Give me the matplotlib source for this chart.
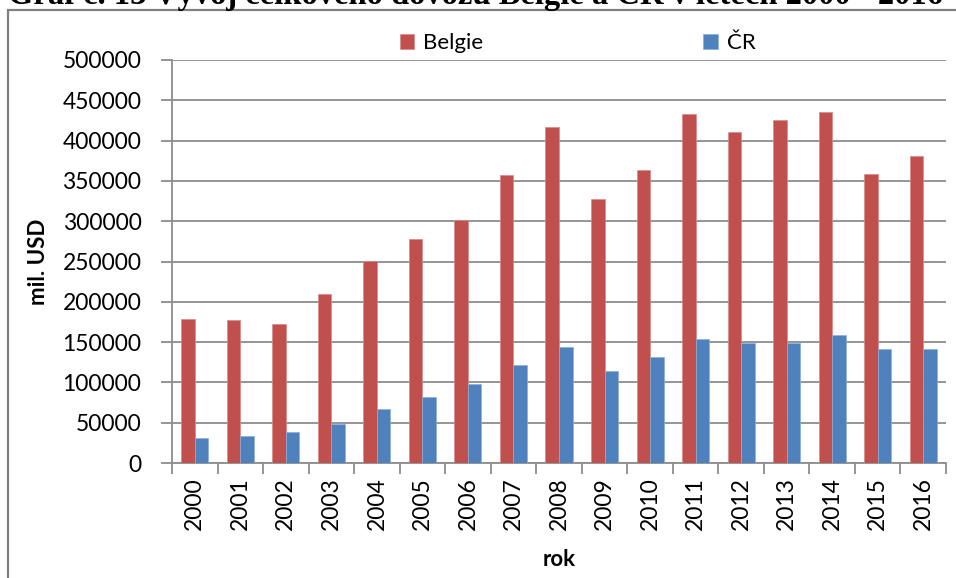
import matplotlib.pyplot as plt
import numpy as np
from matplotlib.patches import Rectangle

years = [str(y) for y in range(2000, 2017)]
belgie = [178700, 177400, 172500, 209700, 250600, 278000, 301500, 357000, 416500,
          327200, 363500, 432600, 411000, 426000, 435500, 358600, 381300]
cr = [30600, 33900, 38800, 48800, 67400, 81900, 97600, 121600, 143900,
      113700, 131100, 153400, 148900, 148900, 158400, 141000, 141000]
y_ticks = list(range(0, 500001, 50000))

RED = '#C0504D'
BLUE = '#4F81BD'
GRID = '#8C8C8C'
FONT = 'Lato'

fig = plt.figure(figsize=(9.56, 5.78), dpi=100)
W, H = 956, 578
ax = fig.add_axes([172 / W, 115 / H, 774 / W, 403 / H])

x = np.arange(len(years))
bw = 0.297
ax.bar(x - bw / 2, belgie, bw, color=RED, edgecolor='#D98A88', linewidth=0.5, label='Belgie', zorder=3)
ax.bar(x + bw / 2, cr, bw, color=BLUE, edgecolor='#8EADD6', linewidth=0.5, label='ČR', zorder=3)

ax.set_xlim(-0.5, len(years) - 0.5)
ax.set_ylim(0, 500000)
ax.set_yticks(y_ticks)
ax.set_yticklabels([str(v) for v in y_ticks], fontsize=16.5, family=FONT)
ax.yaxis.grid(True, color=GRID, linewidth=1.3, zorder=0)

# category boundaries carry the ticks, labels sit at the centres
ax.set_xticks(np.arange(-0.5, len(years), 1.0))
ax.set_xticklabels([])
ax.set_xticks(x, minor=True)
ax.set_xticklabels(years, minor=True, rotation=90, fontsize=16.5, family=FONT)
ax.tick_params(axis='x', which='minor', length=0, pad=10)
ax.tick_params(axis='x', which='major', length=8, width=1.3, color=GRID, direction='out')
ax.tick_params(axis='y', length=8, width=1.3, color=GRID, direction='out', pad=14)

for side in ['top', 'right']:
    ax.spines[side].set_visible(False)
for side in ['left', 'bottom']:
    ax.spines[side].set_color(GRID)
    ax.spines[side].set_linewidth(1.3)

ax.set_ylabel('mil. USD', fontsize=16, fontweight='bold', family=FONT, labelpad=10)
ax.set_xlabel('rok', fontsize=16, fontweight='bold', family=FONT, labelpad=14)

fig.legend(loc='center left', bbox_to_anchor=(400 / W, 1 - 43 / H), ncol=2, frameon=False,
           prop={'family': FONT, 'size': 16}, handlelength=0.65, handleheight=0.65,
           handletextpad=0.4, columnspacing=9.9, borderaxespad=0, borderpad=0)

# outer frame of the chart object and the caption above it, clipped by the page edge
fig.patches.append(Rectangle((8 / W, -0.05), 1.1, 1.05 - 10 / H, transform=fig.transFigure,
                             fill=False, edgecolor='#808080', linewidth=1.6))
fig.text(8 / W, 1 - 4 / H, 'Graf č. 13 Vývoj celkového dovozu Belgie a ČR v letech 2000 - 2016',
         fontsize=23.5, fontweight='bold', family='Liberation Serif', va='baseline', ha='left')

fig.savefig('out.png', dpi=100)
